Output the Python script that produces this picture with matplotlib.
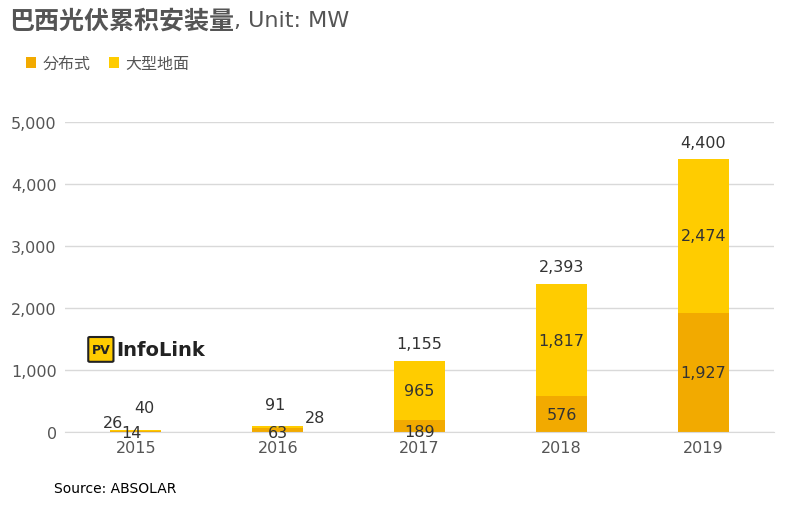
import matplotlib
matplotlib.use("Agg")
import matplotlib.pyplot as plt
from matplotlib import font_manager as fm
from matplotlib.patches import FancyBboxPatch

years = ["2015", "2016", "2017", "2018", "2019"]
distributed = [14, 63, 189, 576, 1927]
utility = [26, 28, 965, 1817, 2474]
totals = [40, 91, 1155, 2393, 4400]

cjk = [f.name for f in fm.fontManager.ttflist if "CJK" in f.name]
pref = [n for n in cjk if "SC" in n] or cjk
cjkname = pref[0] if pref else "Noto Sans CJK SC"
plt.rcParams["font.family"] = "sans-serif"
plt.rcParams["font.sans-serif"] = ["DejaVu Sans", cjkname]

fig = plt.figure(figsize=(7.88, 5.06), dpi=100)
ax = fig.add_axes([0.0825, 0.144, 0.9, 0.613])
c1, c2 = "#F2AA00", "#FFCC00"
x = range(len(years))
ax.bar(x, distributed, 0.36, color=c1, label="分布式")
ax.bar(x, utility, 0.36, bottom=distributed, color=c2, label="大型地面")
ax.set_ylim(0, 5000)
ax.set_xlim(-0.5, 4.5)
ax.set_yticks(range(0, 5001, 1000))
ax.set_yticklabels([f"{v:,}" for v in range(0, 5001, 1000)])
ax.set_xticks(list(x))
ax.set_xticklabels(years)
ax.grid(axis="y", color="#D9D9D9", lw=1)
ax.set_axisbelow(True)
for s in ["top", "right", "left"]:
    ax.spines[s].set_visible(False)
ax.spines["bottom"].set_color("#D9D9D9")
ax.tick_params(length=0, labelsize=11.5, colors="#555555", pad=6)

fs = 11.5
tc = "#333333"
ax.text(-0.16, 150, f"{utility[0]}", ha="center", va="center", fontsize=fs, color=tc)
ax.text(0.06, 400, f"{totals[0]}", ha="center", va="center", fontsize=fs, color=tc)
ax.text(-0.03, 0, f"{distributed[0]}", ha="center", va="center", fontsize=fs, color=tc)
ax.text(0.98, 450, f"{totals[1]}", ha="center", va="center", fontsize=fs, color=tc)
ax.text(1.0, 0, f"{distributed[1]}", ha="center", va="center", fontsize=fs, color=tc)
ax.text(1.26, 230, f"{utility[1]}", ha="center", va="center", fontsize=fs, color=tc)
for i in range(2, 5):
    ax.text(i, distributed[i] / 2 if i > 2 else 10, f"{distributed[i]:,}", ha="center", va="center", fontsize=fs, color=tc)
    ax.text(i, distributed[i] + utility[i] / 2, f"{utility[i]:,}", ha="center", va="center", fontsize=fs, color=tc)
    ax.text(i, totals[i] + 270, f"{totals[i]:,}", ha="center", va="center", fontsize=fs, color=tc)

t = fig.text(0.012, 0.958, "巴西光伏累积安装量", fontsize=18, weight="bold", color="#555555",
             va="center", family=cjkname)
fig.canvas.draw()
bb = t.get_window_extent().transformed(fig.transFigure.inverted())
fig.text(bb.x1, 0.958, ", Unit: MW", fontsize=16, color="#555555", va="center")
ax.legend(loc="upper left", bbox_to_anchor=(-0.075, 1.262), ncol=2, frameon=False,
          handlelength=0.6, handleheight=0.6, handletextpad=0.4, columnspacing=1.2,
          labelcolor="#555555", prop={"family": cjkname, "size": 11.5})
fig.text(0.068, 0.025, "Source: ABSOLAR", fontsize=10, color="#000000")
fig.patches.append(FancyBboxPatch((0.114, 0.285), 0.028, 0.045, boxstyle="round,pad=0.002",
                                  transform=fig.transFigure, facecolor="#FFCC00", edgecolor="#222222", lw=1.5))
fig.text(0.128, 0.307, "PV", fontsize=9, weight="bold", ha="center", va="center", color="#222222")
fig.text(0.147, 0.307, "InfoLink", fontsize=14, weight="bold", va="center", color="#222222")
fig.savefig("out.png", dpi=100)
